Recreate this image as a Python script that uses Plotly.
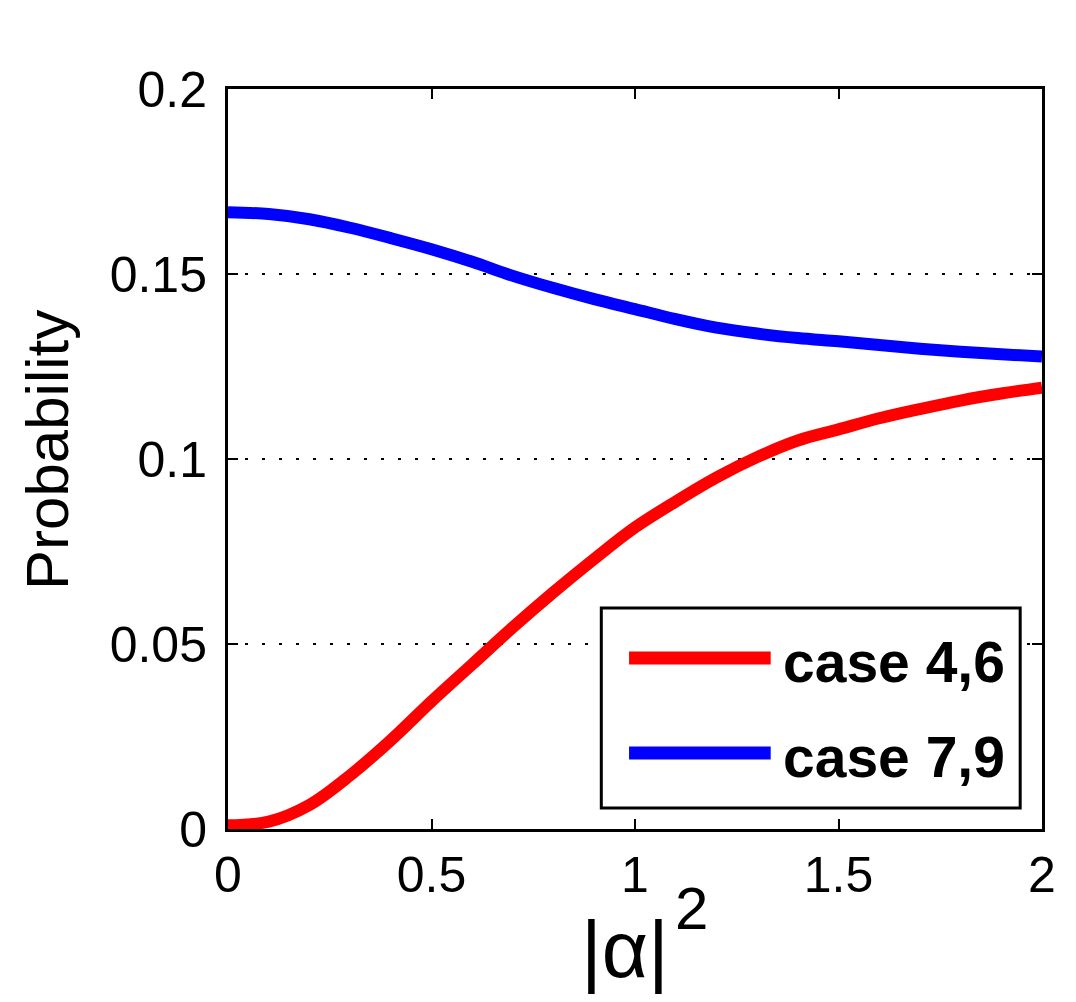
import plotly.graph_objects as go

# ---- data ----
alpha_sq = [0.0, 0.1, 0.2, 0.3, 0.4, 0.5, 0.6, 0.7, 0.8, 0.9, 1.0,
            1.1, 1.2, 1.3, 1.4, 1.5, 1.6, 1.7, 1.8, 1.9, 2.0]
case_46 = [0.001, 0.002, 0.0065, 0.0145, 0.024, 0.0345, 0.0445, 0.0545, 0.064, 0.073, 0.0815,
           0.0885, 0.095, 0.1005, 0.105, 0.108, 0.111, 0.1135, 0.1158, 0.1177, 0.1193]
case_79 = [0.1667, 0.1662, 0.1648, 0.1625, 0.1597, 0.1567, 0.1533, 0.1495, 0.1462, 0.1432, 0.1405,
           0.1378, 0.1355, 0.1339, 0.1327, 0.1318, 0.1308, 0.1298, 0.1290, 0.1283, 0.1277]
series_names = ["case 4,6", "case 7,9"]
series_colors = ["#ff0000", "#0000ff"]
x_ticks = [0, 0.5, 1, 1.5, 2]
x_tick_labels = ["0", "0.5", "1", "1.5", "2"]
y_ticks = [0, 0.05, 0.1, 0.15, 0.2]
y_tick_labels = ["0", "0.05", "0.1", "0.15", "0.2"]
x_title_base = "|α|"
x_title_power = "2"
y_title = "Probability"

FONT = "Liberation Sans"

fig = go.Figure()
for name, ys, col in zip(series_names, [case_46, case_79], series_colors):
    fig.add_trace(go.Scatter(x=alpha_sq, y=ys, mode="lines", name=name,
                             line=dict(color=col, width=12, shape="spline"),
                             showlegend=False, cliponaxis=True))

# custom legend (box, sample lines, labels) in paper coordinates
fig.add_shape(type="rect", xref="paper", yref="paper", x0=0.4586, x1=0.9732, y0=0.0284, y1=0.2986,
              line=dict(color="black", width=3), fillcolor="white", layer="above")
leg_y = [0.2311, 0.1027]
for name, col, yy in zip(series_names, series_colors, leg_y):
    fig.add_shape(type="line", xref="paper", yref="paper", x0=0.4927, x1=0.6667, y0=yy, y1=yy,
                  line=dict(color=col, width=13), layer="above")
    fig.add_annotation(xref="paper", yref="paper", x=0.679, y=yy - 0.005, text="<b>" + name + "</b>",
                       showarrow=False, xanchor="left", yanchor="middle",
                       font=dict(family=FONT, size=57, color="black"))

# x-axis title: |α| with a superscript 2
fig.add_annotation(xref="paper", yref="paper", x=0.4875, y=-0.1635, text=x_title_base,
                   showarrow=False, xanchor="center", yanchor="middle",
                   font=dict(family=FONT, size=80, color="black"))
fig.add_annotation(xref="paper", yref="paper", x=0.5695, y=-0.1068, text=x_title_power,
                   showarrow=False, xanchor="center", yanchor="middle",
                   font=dict(family=FONT, size=60, color="black"))

# y-axis title
fig.add_annotation(xref="paper", yref="paper", x=-0.2226, y=0.512, text=y_title,
                   showarrow=False, xanchor="center", yanchor="middle", textangle=-90,
                   font=dict(family=FONT, size=60, color="black"))

fig.update_layout(
    width=1060, height=986,
    margin=dict(l=220, r=18, t=81, b=165),
    paper_bgcolor="white", plot_bgcolor="white",
    font=dict(family=FONT, color="black"),
)
fig.update_xaxes(
    range=[0, 2], tickvals=x_ticks, ticktext=x_tick_labels,
    showline=True, linecolor="black", linewidth=3, mirror="ticks",
    ticks="inside", ticklen=10, tickwidth=2, tickcolor="black",
    showgrid=False, zeroline=False,
    tickfont=dict(family=FONT, size=50, color="black"),
    ticklabelstandoff=0,
)
fig.update_yaxes(
    range=[0, 0.2], tickvals=y_ticks, ticktext=y_tick_labels,
    showline=True, linecolor="black", linewidth=3, mirror="ticks",
    ticks="inside", ticklen=10, tickwidth=2, tickcolor="black",
    showgrid=True, gridcolor="black", gridwidth=2, griddash="3px,14px",
    zeroline=False,
    tickfont=dict(family=FONT, size=50, color="black"),
    ticklabelstandoff=8,
)

fig.write_html("out.html")
